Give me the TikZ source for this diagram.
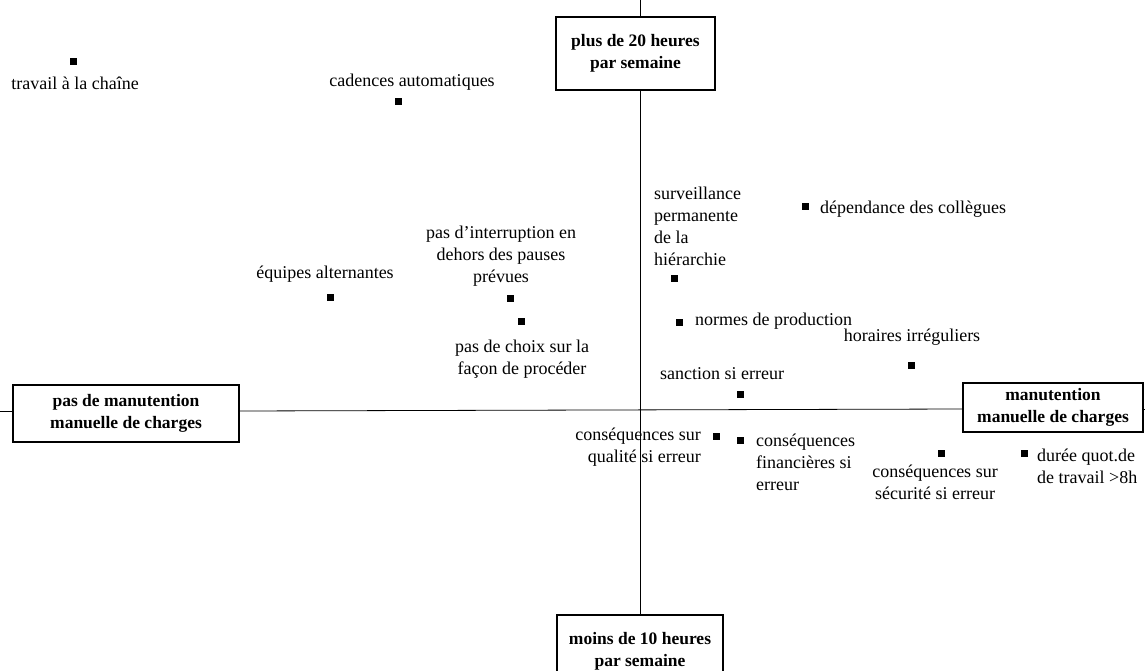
\documentclass[tikz,border=0pt]{standalone}
\usepackage{fontspec}
\setmainfont{Liberation Serif}
\begin{document}
\begin{tikzpicture}[x=1pt,y=-1pt,
  axisbox/.style={draw,line width=1.1pt,align=center,inner sep=0pt,font=\fontsize{17.5}{22}\selectfont\bfseries},
  pt/.style={fill=black,minimum size=7pt,inner sep=0pt,rectangle},
  lbl/.style={inner sep=0pt,font=\fontsize{18}{22}\selectfont,align=center},
  lbll/.style={lbl,align=left,anchor=west},
  lblr/.style={lbl,align=right,anchor=east},
  ax/.style={line width=0.8pt}]
\useasboundingbox (0,0) rectangle (1145,671);
% axis boxes
\node[axisbox,minimum width=159pt,minimum height=73pt] (top) at (635.5,53.5) {plus de 20 heures\\par semaine};
\node[axisbox,minimum width=166pt,minimum height=73pt] (bot) at (640,651.5) {moins de 10 heures\\par semaine};
\node[axisbox,minimum width=226pt,minimum height=57pt] (left) at (126,413.5) {pas de manutention\\manuelle de charges};
\node[axisbox,minimum width=180pt,minimum height=49pt] (right) at (1053,407.5) {manutention\\manuelle de charges};
\coordinate (vt) at (640,0);
\coordinate (hl) at (0,411);
\coordinate (hr) at (1145,409);
% axes
\draw[ax] (vt) -- (vt |- top.north);
\draw[ax] (vt |- top.south) -- (vt |- bot.north);
\draw[ax] (hl) -- (hl -| left.west);
\draw[ax] (left.east |- 0,411) -- (right.west |- 0,409);
\draw[ax] (right.east |- hr) -- (hr);
% points
\node[pt] (p1) at (73,62) {};
\node[lbl] (t1) at (75,83) {travail à la chaîne};
\node[pt] (p2) at (398,102) {};
\node[lbl] (t2) at (412,82) {cadences automatiques};
\node[pt] (p3) at (330,297) {};
\node[lbl] (t3) at (325,274) {équipes alternantes};
\node[pt] (p4) at (510,298) {};
\node[lbl] (t4) at (501,256) {pas d'interruption en\\dehors des pauses\\prévues};
\node[pt] (p5) at (521,321) {};
\node[lbl] (t5) at (522,359) {pas de choix sur la\\façon de procéder};
\node[pt] (p6) at (674,278) {};
\node[lbll] (t6) at (654,226) {surveillance\\permanente\\de la\\hiérarchie};
\node[pt] (p7) at (805,206) {};
\node[lbll] (t7) at (820,209) {dépendance des collègues};
\node[pt] (p8) at (679,322) {};
\node[lbll] (t8) at (695,321) {normes de production};
\node[pt] (p9) at (911,365) {};
\node[lbl] (t9) at (912,337) {horaires irréguliers};
\node[pt] (p10) at (740,394) {};
\node[lbl] (t10) at (722,374) {sanction si erreur};
\node[pt] (p11) at (716,436) {};
\node[lblr] (t11) at (701,447) {conséquences sur\\qualité si erreur};
\node[pt] (p12) at (740,440) {};
\node[lbll] (t12) at (756,462) {conséquences\\financières si\\erreur};
\node[pt] (p13) at (941,453) {};
\node[lbl] (t13) at (935,482) {conséquences sur\\sécurité si erreur};
\node[pt] (p14) at (1024,453) {};
\node[lbll] (t14) at (1037,466) {durée quot.de\\de travail >8h};
\end{tikzpicture}
\end{document}
